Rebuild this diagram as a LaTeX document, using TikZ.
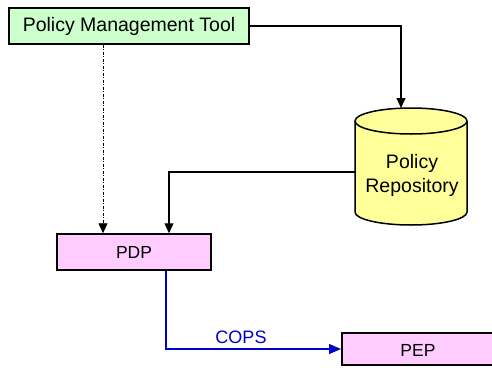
\documentclass[tikz,border=0pt]{standalone}
\usepackage{fontspec}
\setmainfont{Liberation Sans}
\usetikzlibrary{arrows.meta}
\definecolor{mintfill}{HTML}{CCFFCC}
\definecolor{pinkfill}{HTML}{FFCCFF}
\definecolor{creamfill}{HTML}{FFFF99}
\definecolor{copsblue}{HTML}{0000CC}
\tikzset{
  box/.style={draw=black, line width=1.5pt, inner sep=0pt, font=\fontsize{17.5}{21}\selectfont},
  bigtext/.style={font=\fontsize{19.5}{23}\selectfont},
  conn/.style={draw=black, line width=1.2pt, -{Triangle[length=10pt,width=9pt]}},
  dashconn/.style={draw=black, line width=0.8pt, dash pattern=on 3pt off 1.5pt on 1pt off 1.5pt,
    -{Triangle[length=10pt,width=9pt]}},
  copsconn/.style={draw=copsblue, line width=1.2pt, -{Triangle[length=12pt,width=10pt]}},
}
\begin{document}
\begin{tikzpicture}[x=1pt,y=-1pt]
\useasboundingbox (0,0) rectangle (492,367);
\begin{scope}
\clip (0,0) rectangle (492,367);

% Boxes
\node[box, bigtext, fill=mintfill, minimum width=240pt, minimum height=36pt] (pmt) at (129,26) {Policy Management Tool};
\node[box, fill=pinkfill, minimum width=154pt, minimum height=36pt] (pdp) at (134,252) {PDP};
\node[box, fill=pinkfill, minimum width=160pt, minimum height=32pt, anchor=west] (pep) at (341,349) {};
\node[font=\fontsize{17.5}{21}\selectfont] (peplabel) at (418,350) {PEP};

% Repository cylinder
\fill[creamfill] (355,121) -- (355,212) arc[start angle=180, end angle=360, x radius=56pt, y radius=13pt]
  -- (467,121) arc[start angle=0, end angle=180, x radius=56pt, y radius=13pt] -- cycle;
\draw[line width=1.5pt] (355,121) -- (355,212) arc[start angle=180, end angle=360, x radius=56pt, y radius=13pt]
  -- (467,121);
\draw[line width=1.5pt] (411,121) ellipse[x radius=56pt, y radius=13pt];
\node[inner sep=0pt, minimum width=112pt, minimum height=117pt] (repo) at (411,166.5) {};
\node[bigtext, align=center] (repolabel) at (412,175) {Policy\\[1pt]Repository};
\coordinate (repotop) at (401,108);
\coordinate (repoleft) at (355,172);

% Connectors
\draw[conn] (pmt.east |- 0,26) -| (repotop);
\draw[dashconn] (pmt.south -| 103,0) -- (pdp.north -| 103,0);
\draw[conn] (repoleft) -| (pdp.north -| 169,0);
\draw[copsconn] (pdp.south -| 166,0) |- (pep.west);
\node[text=copsblue, font=\fontsize{18}{21}\selectfont] (cops) at (241,337) {COPS};
\end{scope}
\end{tikzpicture}
\end{document}
